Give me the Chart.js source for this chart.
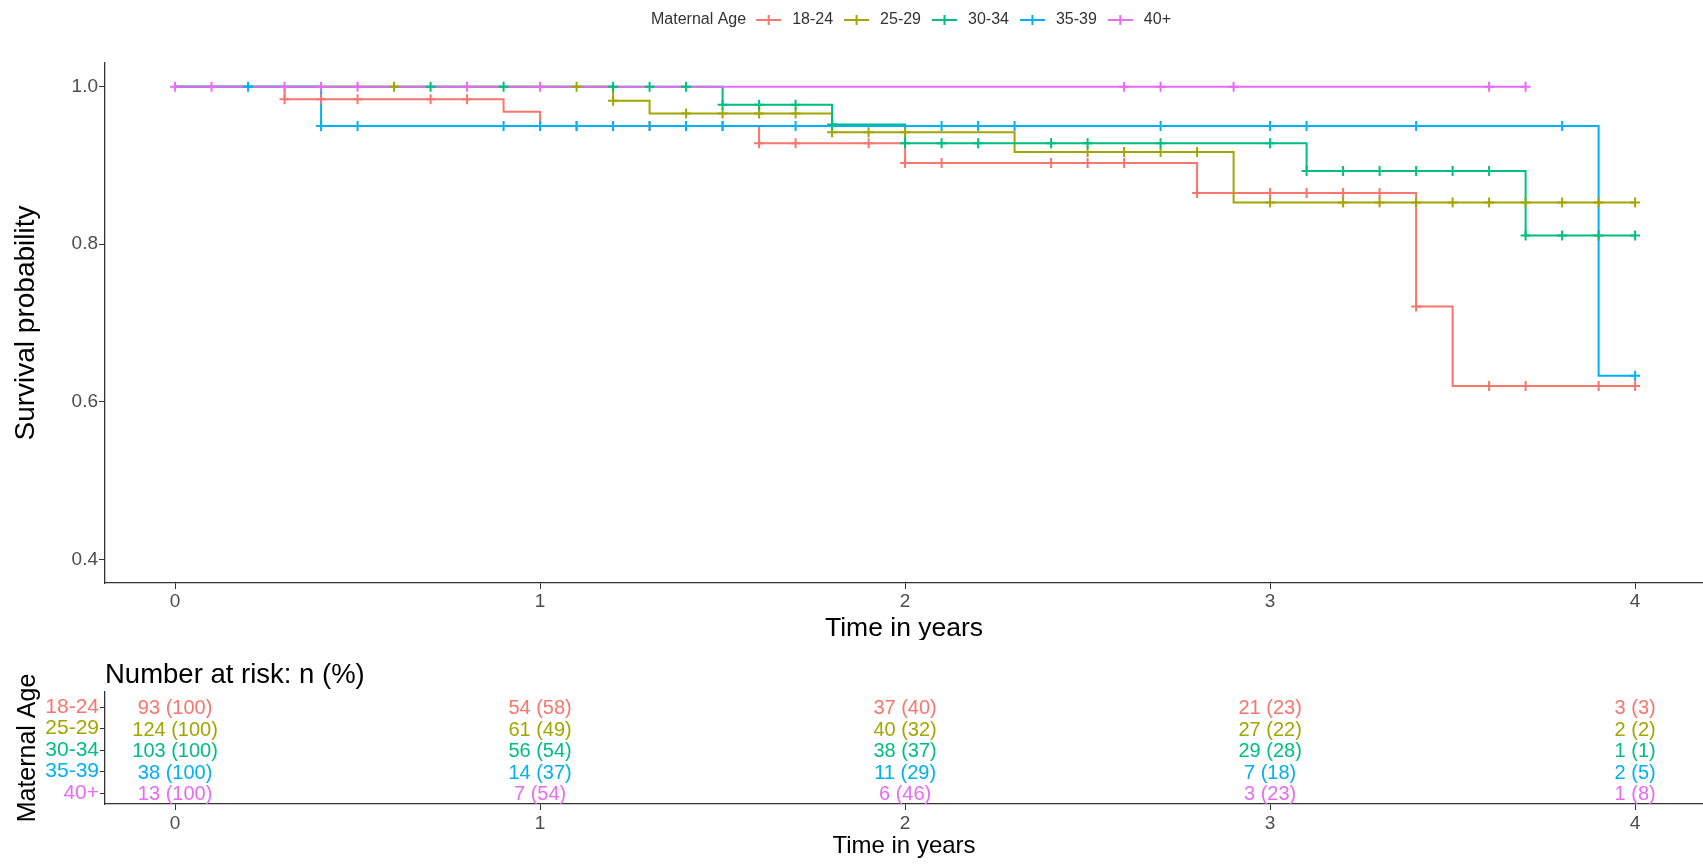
<!DOCTYPE html>
<html>
<head>
<meta charset="utf-8">
<script src="https://cdn.jsdelivr.net/npm/chart.js@4.4.1/dist/chart.umd.min.js"></script>
<style>
  body { margin: 0; background: #fff; }
  #wrap { position: relative; width: 1703px; height: 866px; }
  #survChart { position: absolute; left: 0; top: 0; }
  #riskChart { position: absolute; left: 0; top: 640px; }
</style>
</head>
<body>
<div id="wrap">
  <canvas id="survChart" width="1703" height="640"></canvas>
  <canvas id="riskChart" width="1703" height="226"></canvas>
</div>
<script>
// groups and colours (ggplot hue palette)
const groups = ['18-24', '25-29', '30-34', '35-39', '40+'];
const colors = ['#F8766D', '#A3A500', '#00BF7D', '#00B0F6', '#E76BF3'];
const legendTitle = 'Maternal Age';

// Kaplan-Meier steps: time of each drop and survival from that time on
const times1824 = [0, 0.3, 0.9, 1.0, 1.6, 2.0, 2.8, 3.4, 3.5, 4.0];
const surv1824  = [1, 0.984, 0.968, 0.950, 0.928, 0.903, 0.865, 0.721, 0.620, 0.620];
const times2529 = [0, 1.2, 1.3, 1.8, 2.3, 2.9, 4.0];
const surv2529  = [1, 0.982, 0.966, 0.942, 0.917, 0.853, 0.853];
const times3034 = [0, 1.5, 1.8, 2.0, 3.1, 3.7, 4.0];
const surv3034  = [1, 0.977, 0.952, 0.928, 0.893, 0.811, 0.811];
const times3539 = [0, 0.4, 3.9, 4.0];
const surv3539  = [1, 0.950, 0.633, 0.633];
const times40   = [0, 3.7];
const surv40    = [1, 1];

// censoring times (+ marks)
const cens1824 = [0.3, 0.4, 0.5, 0.7, 0.8, 1.0, 1.1, 1.2, 1.3, 1.4, 1.5, 1.6, 1.7, 1.9, 2.0, 2.1, 2.4, 2.5, 2.6, 2.8, 3.0, 3.1, 3.2, 3.3, 3.4, 3.6, 3.7, 3.9, 4.0];
const cens2529 = [0.6, 1.1, 1.2, 1.4, 1.5, 1.6, 1.7, 1.8, 1.9, 2.0, 2.5, 2.6, 2.7, 2.8, 3.0, 3.2, 3.3, 3.4, 3.5, 3.6, 3.7, 3.8, 3.9, 4.0];
const cens3034 = [0.7, 0.9, 1.2, 1.3, 1.4, 1.5, 1.6, 1.7, 1.8, 2.0, 2.1, 2.2, 2.4, 2.5, 2.7, 3.0, 3.1, 3.2, 3.3, 3.4, 3.5, 3.6, 3.7, 3.8, 3.9, 4.0];
const cens3539 = [0.2, 0.4, 0.5, 0.9, 1.0, 1.1, 1.2, 1.3, 1.4, 1.5, 1.7, 2.1, 2.2, 2.3, 2.7, 3.0, 3.1, 3.4, 3.8, 4.0];
const cens40   = [0, 0.1, 0.3, 0.4, 0.5, 0.8, 1.0, 2.6, 2.7, 2.9, 3.6, 3.7];

// number at risk table
const riskTimes = [0, 1, 2, 3, 4];
const riskN1824 = [93, 54, 37, 21, 3];
const riskP1824 = [100, 58, 40, 23, 3];
const riskN2529 = [124, 61, 40, 27, 2];
const riskP2529 = [100, 49, 32, 22, 2];
const riskN3034 = [103, 56, 38, 29, 1];
const riskP3034 = [100, 54, 37, 28, 1];
const riskN3539 = [38, 14, 11, 7, 2];
const riskP3539 = [100, 37, 29, 18, 5];
const riskN40   = [13, 7, 6, 3, 1];
const riskP40   = [100, 54, 46, 23, 8];

const timeTicks = [0, 1, 2, 3, 4];
const survTicks = [0.4, 0.6, 0.8, 1.0];

const allTimes = [times1824, times2529, times3034, times3539, times40];
const allSurv  = [surv1824, surv2529, surv3034, surv3539, surv40];
const allCens  = [cens1824, cens2529, cens3034, cens3539, cens40];
const allN = [riskN1824, riskN2529, riskN3034, riskN3539, riskN40];
const allP = [riskP1824, riskP2529, riskP3034, riskP3539, riskP40];

const FONT = '"Liberation Sans", Arial, sans-serif';
const xMin = -0.192, xMax = 4.186;

function stepAt(times, surv, t) {
    let v = surv[0];
    for (let i = 0; i < times.length; i++) {
        if (times[i] <= t + 1e-9) v = surv[i];
    }
    return v;
}

function fixedTicks(list) {
    return function (axis) {
        axis.ticks = list.map(v => ({ value: v }));
    };
}

// --- survival curves ---
let datasets = [];
groups.forEach((g, i) => {
    datasets.push({
        label: g,
        data: allTimes[i].map((t, k) => ({ x: t, y: allSurv[i][k] })),
        borderColor: colors[i],
        borderWidth: 2,
        stepped: true,
        pointRadius: 0,
        fill: false,
        order: 20 - i
    });
});
groups.forEach((g, i) => {
    datasets.push({
        label: g + ' censored',
        data: allCens[i].map(t => ({ x: t, y: stepAt(allTimes[i], allSurv[i], t) })),
        showLine: false,
        pointStyle: 'cross',
        pointRadius: 5,
        pointBorderWidth: 2,
        pointBorderColor: colors[i],
        pointBackgroundColor: colors[i],
        order: 10 - i
    });
});

const legendPlugin = {
    id: 'ggLegend',
    afterDraw(chart) {
        const ctx = chart.ctx;
        ctx.save();
        ctx.font = '16px ' + FONT;
        ctx.textBaseline = 'middle';
        ctx.textAlign = 'left';
        let x = 651, y = 20;
        ctx.fillStyle = '#333';
        ctx.fillText(legendTitle, x, y);
        x += ctx.measureText(legendTitle).width + 10;
        groups.forEach((g, i) => {
            ctx.strokeStyle = colors[i];
            ctx.lineWidth = 2;
            ctx.beginPath();
            ctx.moveTo(x, y); ctx.lineTo(x + 25, y);
            ctx.moveTo(x + 12.5, y - 5); ctx.lineTo(x + 12.5, y + 5);
            ctx.stroke();
            x += 36;
            ctx.fillStyle = '#333';
            ctx.fillText(g, x, y);
            x += ctx.measureText(g).width + 11;
        });
        ctx.restore();
    }
};

let survChart = new Chart(document.getElementById('survChart').getContext('2d'), {
    type: 'line',
    data: { datasets: datasets },
    options: {
        responsive: false,
        animation: false,
        layout: { autoPadding: false, padding: { top: 63, right: 0, left: 0, bottom: 0 } },
        plugins: { legend: { display: false }, tooltip: { enabled: false } },
        scales: {
            x: {
                type: 'linear', min: xMin, max: xMax,
                afterBuildTicks: fixedTicks(timeTicks),
                afterFit: s => { s.height = 57; },
                grid: { drawOnChartArea: false, tickLength: 6, color: '#333', lineWidth: 1 },
                border: { color: '#333', width: 1.3 },
                ticks: { font: { size: 19, family: FONT }, color: '#4d4d4d', padding: 1, maxRotation: 0, autoSkip: false },
                title: { display: true, text: 'Time in years', color: '#000',
                         font: { size: 26.5, family: FONT, lineHeight: 0.85 }, padding: 0 }
            },
            y: {
                min: 0.37, max: 1.03,
                afterBuildTicks: fixedTicks(survTicks),
                afterFit: s => { s.width = 105; },
                grid: { drawOnChartArea: false, tickLength: 6, color: '#333', lineWidth: 1 },
                border: { color: '#333', width: 1.3 },
                ticks: { font: { size: 19, family: FONT }, color: '#4d4d4d', padding: 1, autoSkip: false,
                         callback: v => v.toFixed(1) },
                title: { display: true, text: 'Survival probability', color: '#000',
                         font: { size: 28, family: FONT, lineHeight: 1 }, padding: { top: 12, bottom: 0 } }
            }
        }
    },
    plugins: [legendPlugin]
});

// --- number at risk table ---
let riskSets = groups.map((g, i) => ({
    label: g,
    data: riskTimes.map(t => ({ x: t, y: 5 - i })),
    pointRadius: 0,
    showLine: false
}));

const riskLabels = {
    id: 'riskLabels',
    afterDraw(chart) {
        const ctx = chart.ctx;
        ctx.save();
        ctx.font = '20px ' + FONT;
        ctx.textAlign = 'center';
        ctx.textBaseline = 'middle';
        chart.data.datasets.forEach((ds, i) => {
            const meta = chart.getDatasetMeta(i);
            meta.data.forEach((pt, j) => {
                ctx.fillStyle = colors[i];
                ctx.fillText(allN[i][j] + ' (' + allP[i][j] + ')', pt.x, pt.y + 1.5);
            });
        });
        ctx.textAlign = 'left';
        ctx.fillStyle = '#000';
        ctx.font = '27.5px ' + FONT;
        ctx.fillText('Number at risk: n (%)', chart.chartArea.left, 35);
        ctx.restore();
    }
};

let riskChart = new Chart(document.getElementById('riskChart').getContext('2d'), {
    type: 'scatter',
    data: { datasets: riskSets },
    options: {
        responsive: false,
        animation: false,
        layout: { autoPadding: false, padding: { top: 52, right: 0, left: 0, bottom: 0 } },
        plugins: { legend: { display: false }, tooltip: { enabled: false } },
        scales: {
            x: {
                type: 'linear', min: xMin, max: xMax,
                afterBuildTicks: fixedTicks(timeTicks),
                afterFit: s => { s.height = 62; },
                grid: { drawOnChartArea: false, tickLength: 6, color: '#333', lineWidth: 1 },
                border: { color: '#333', width: 1.3 },
                ticks: { font: { size: 19, family: FONT }, color: '#4d4d4d', padding: 2, maxRotation: 0, autoSkip: false },
                title: { display: true, text: 'Time in years', color: '#000',
                         font: { size: 24, family: FONT, lineHeight: 1 }, padding: { top: 0, bottom: 8 } }
            },
            y: {
                min: 0.5, max: 5.7,
                afterBuildTicks: fixedTicks([1, 2, 3, 4, 5]),
                afterFit: s => { s.width = 105; },
                grid: { drawOnChartArea: false, tickLength: 5, color: '#333', lineWidth: 1 },
                border: { color: '#333', width: 1.3 },
                ticks: { font: { size: 21, family: FONT }, padding: 1, autoSkip: false,
                         color: c => colors[5 - c.tick.value],
                         callback: v => groups[5 - v] },
                title: { display: true, text: 'Maternal Age', color: '#000',
                         font: { size: 25, family: FONT, lineHeight: 1 }, padding: { top: 16, bottom: 0 } }
            }
        }
    },
    plugins: [riskLabels]
});
</script>
</body>
</html>
